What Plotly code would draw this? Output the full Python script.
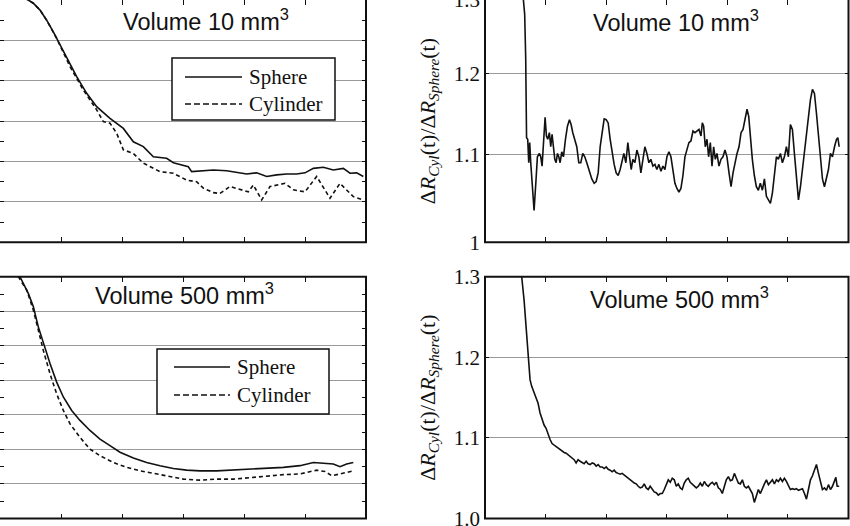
import plotly.graph_objects as go

# ---------------- data (time in arbitrary units, 0..60) ----------------
# Top-left: Volume 10 mm^3, Delta R (arbitrary units)
t10_sph = [1.5, 3.3, 4.64, 5.46, 6.56, 7.65, 8.74, 9.56, 10.93, 12.57, 14.21, 15.85, 18.03,
           20.22, 21.86, 23.50, 25.14, 26.23, 27.32, 28.42, 29.78, 30.87, 31.42, 32.79, 34.97,
           37.16, 39.34, 40.44, 42.08, 43.72, 45.36, 46.99, 48.63, 50.00, 51.37, 53.01, 54.64,
           56.28, 57.38, 58.47, 59.56]
r10_sph = [6.8, 6.1, 6.0, 5.92, 5.75, 5.50, 5.21, 4.97, 4.60, 4.10, 3.69, 3.36, 3.07,
           2.82, 2.49, 2.37, 2.12, 2.10, 2.08, 1.97, 1.91, 1.87, 1.75, 1.77, 1.79,
           1.77, 1.72, 1.69, 1.72, 1.63, 1.67, 1.69, 1.69, 1.72, 1.83, 1.86, 1.79,
           1.83, 1.71, 1.72, 1.63]
t10_cyl = [1.5, 3.3, 4.64, 5.46, 6.56, 7.65, 8.74, 9.29, 11.48, 13.66, 15.85, 16.94, 18.03,
           19.13, 20.22, 21.86, 23.50, 26.23, 28.42, 30.60, 32.24, 33.33, 34.97, 36.07, 37.70,
           39.34, 40.71, 41.53, 42.90, 44.26, 46.72, 48.09, 50.00, 51.91, 54.10, 55.74, 57.92,
           59.56]
r10_cyl = [6.8, 6.1, 6.0, 5.92, 5.75, 5.50, 5.20, 5.05, 4.35, 3.77, 3.28, 2.99, 2.95,
           2.70, 2.29, 2.20, 1.96, 1.75, 1.71, 1.54, 1.50, 1.34, 1.23, 1.21, 1.38,
           1.30, 1.25, 1.42, 1.05, 1.38, 1.46, 1.30, 1.25, 1.63, 1.09, 1.46, 1.13,
           1.05]

# Bottom-left: Volume 500 mm^3
t500_sph = [2.0, 3.28, 4.64, 5.46, 6.28, 7.10, 8.20, 9.29, 10.38, 11.75, 13.11, 14.75, 16.39,
            18.03, 19.67, 21.86, 24.04, 26.23, 28.42, 30.60, 32.79, 35.52, 38.25, 40.98,
            43.72, 46.45, 49.18, 51.37, 53.01, 54.64, 55.74, 56.83, 57.92]
r500_sph = [7.8, 7.0, 6.52, 6.14, 5.55, 5.07, 4.49, 3.95, 3.52, 3.13, 2.84, 2.55, 2.30,
            2.11, 1.92, 1.75, 1.62, 1.53, 1.45, 1.40, 1.38, 1.38, 1.40, 1.43,
            1.44, 1.48, 1.53, 1.62, 1.60, 1.58, 1.50, 1.58, 1.62]
t500_cyl = [2.0, 3.0, 4.37, 5.46, 6.28, 7.10, 8.20, 9.29, 10.38, 11.48, 13.11, 14.75, 16.39,
            18.58, 20.77, 22.95, 25.14, 27.32, 30.05, 32.79, 35.52, 38.25, 40.98, 43.72,
            46.45, 49.18, 51.91, 53.28, 54.37, 55.74, 57.92]
r500_cyl = [7.8, 7.0, 6.62, 6.04, 5.46, 4.87, 4.19, 3.61, 3.13, 2.74, 2.35, 2.01, 1.82,
            1.62, 1.48, 1.38, 1.31, 1.24, 1.14, 1.11, 1.14, 1.14, 1.19, 1.24,
            1.27, 1.29, 1.40, 1.36, 1.24, 1.29, 1.38]

# Top-right: ratio, Volume 10 mm^3 (log axis)
t_ratio10 = [5.8, 6.34, 6.55, 6.72, 6.86, 7.05, 7.22, 7.38, 7.55, 7.77, 8.10, 8.43, 8.65, 8.98,
             9.20, 9.42, 9.64, 9.92, 10.14, 10.36, 10.63, 10.85, 11.07, 11.29, 11.52, 11.74,
             11.96, 12.18, 12.40, 12.67, 12.95, 13.28, 13.61, 13.94, 14.21, 14.49, 14.77,
             15.15, 15.48, 15.81, 16.14, 16.47, 16.80, 17.25, 17.63, 18.02, 18.35, 18.68,
             19.01, 19.34, 19.67, 20.00, 20.33, 20.66, 20.99, 21.32, 21.65, 21.98, 22.31,
             22.59, 22.92, 23.25, 23.58, 23.86, 24.13, 24.41, 24.74, 25.07, 25.40, 25.73,
             26.06, 26.39, 26.72, 27.05, 27.38, 27.71, 28.04, 28.37, 28.70, 29.04, 29.37,
             29.70, 30.03, 30.36, 30.69, 31.02, 31.35, 31.68, 32.01, 32.34, 32.67, 33.00,
             33.33, 33.66, 33.99, 34.33, 34.66, 34.99, 35.32, 35.65, 35.87, 36.09, 36.36,
             36.64, 36.91, 37.19, 37.47, 37.74, 38.02, 38.29, 38.62, 38.95, 39.28, 39.61,
             39.94, 40.28, 40.61, 40.94, 41.27, 41.60, 41.93, 42.26, 42.59, 42.92, 43.25,
             43.53, 43.80, 44.13, 44.46, 44.79, 45.12, 45.45, 45.79, 46.12, 46.45, 46.78,
             47.11, 47.44, 47.77, 48.10, 48.43, 48.76, 49.09, 49.42, 49.75, 50.08, 50.41,
             50.74, 51.07, 51.40, 51.74, 52.07, 52.40, 52.73, 53.06, 53.39, 53.72, 54.05,
             54.38, 54.71, 55.04, 55.37, 55.70, 56.03, 56.36, 56.69, 57.02, 57.35, 57.69,
             58.02, 58.24, 58.46]
ratio10 = [1.45, 1.30, 1.28, 1.22, 1.12, 1.118, 1.090, 1.114, 1.090, 1.066, 1.035, 1.071, 1.097,
           1.101, 1.097, 1.086, 1.109, 1.145, 1.122, 1.118, 1.126, 1.109, 1.124, 1.109, 1.094,
           1.090, 1.101, 1.097, 1.090, 1.103, 1.097, 1.118, 1.134, 1.142, 1.136, 1.126, 1.118,
           1.109, 1.090, 1.090, 1.101, 1.097, 1.090, 1.078, 1.071, 1.066, 1.068, 1.078,
           1.109, 1.126, 1.143, 1.142, 1.138, 1.118, 1.101, 1.088, 1.078, 1.075, 1.082,
           1.090, 1.101, 1.090, 1.114, 1.097, 1.082, 1.094, 1.090, 1.105, 1.097, 1.078,
           1.094, 1.109, 1.101, 1.090, 1.094, 1.086, 1.088, 1.082, 1.088, 1.080, 1.086,
           1.082, 1.097, 1.103, 1.097, 1.078, 1.066, 1.060, 1.056, 1.060, 1.075, 1.097,
           1.107, 1.114, 1.116, 1.128, 1.126, 1.128, 1.130, 1.122, 1.138, 1.134, 1.109,
           1.118, 1.097, 1.114, 1.086, 1.109, 1.094, 1.101, 1.086, 1.094, 1.097, 1.105,
           1.097, 1.078, 1.062, 1.078, 1.090, 1.101, 1.109, 1.126, 1.130, 1.142, 1.155,
           1.146, 1.118, 1.094, 1.075, 1.062, 1.058, 1.066, 1.058, 1.071, 1.051, 1.047,
           1.043, 1.055, 1.078, 1.097, 1.094, 1.101, 1.090, 1.097, 1.109, 1.097, 1.136,
           1.130, 1.101, 1.071, 1.047, 1.062, 1.082, 1.101, 1.118, 1.146, 1.167, 1.180,
           1.175, 1.150, 1.126, 1.097, 1.071, 1.062, 1.071, 1.082, 1.101, 1.097, 1.109,
           1.118, 1.120, 1.109]

# Bottom-right: ratio, Volume 500 mm^3 (linear axis)
t_ratio500 = [5.7, 6.06, 6.45, 6.78, 7.16, 7.44, 7.71, 8.10, 8.43, 8.76, 9.09, 9.42, 9.75, 10.08,
              10.41, 10.74, 11.07, 11.40, 11.74, 12.07, 12.40, 12.73, 13.06, 13.39, 13.72,
              14.05, 14.38, 14.71, 15.04, 15.37, 15.70, 16.03, 16.36, 16.69, 17.02, 17.36,
              17.69, 18.02, 18.35, 18.68, 19.01, 19.34, 19.67, 20.00, 20.33, 20.66, 20.99,
              21.32, 21.65, 21.98, 22.31, 22.64, 22.98, 23.31, 23.64, 23.97, 24.30, 24.63,
              24.96, 25.29, 25.62, 25.95, 26.28, 26.61, 26.94, 27.27, 27.60, 27.93, 28.26,
              28.60, 28.93, 29.26, 29.59, 29.92, 30.25, 30.58, 30.91, 31.24, 31.57, 31.90,
              32.23, 32.56, 32.89, 33.22, 33.55, 33.88, 34.21, 34.55, 34.88, 35.21, 35.54,
              35.87, 36.20, 36.53, 36.86, 37.19, 37.52, 37.85, 38.18, 38.51, 38.84, 39.17,
              39.50, 39.83, 40.17, 40.50, 40.83, 41.16, 41.49, 41.82, 42.15, 42.48, 42.81,
              43.14, 43.47, 43.80, 44.13, 44.46, 44.79, 45.12, 45.45, 45.79, 46.12, 46.45,
              46.78, 47.11, 47.44, 47.77, 48.10, 48.43, 48.76, 49.09, 49.42, 49.75, 50.08,
              50.41, 50.74, 51.07, 51.40, 51.74, 52.07, 52.40, 52.73, 53.06, 53.39, 53.72,
              54.05, 54.38, 54.71, 55.04, 55.37, 55.70, 56.03, 56.36, 56.69, 57.02, 57.35,
              57.69, 57.91, 58.13, 58.46]
ratio500 = [1.34, 1.300, 1.271, 1.238, 1.197, 1.172, 1.164, 1.157, 1.151, 1.143, 1.131, 1.122,
            1.116, 1.112, 1.104, 1.098, 1.093, 1.091, 1.089, 1.087, 1.085, 1.083, 1.082, 1.081,
            1.079, 1.077, 1.075, 1.073, 1.069, 1.073, 1.071, 1.069, 1.068, 1.071, 1.068, 1.067,
            1.069, 1.068, 1.065, 1.067, 1.064, 1.064, 1.062, 1.064, 1.061, 1.060, 1.058, 1.060,
            1.057, 1.056, 1.055, 1.056, 1.054, 1.053, 1.050, 1.048, 1.046, 1.044, 1.043, 1.040,
            1.038, 1.039, 1.043, 1.038, 1.036, 1.040, 1.036, 1.033, 1.032, 1.029, 1.031, 1.031,
            1.036, 1.042, 1.048, 1.045, 1.050, 1.048, 1.040, 1.043, 1.038, 1.036, 1.044, 1.048,
            1.050, 1.045, 1.043, 1.040, 1.038, 1.040, 1.044, 1.040, 1.046, 1.042, 1.040, 1.043,
            1.045, 1.042, 1.045, 1.038, 1.036, 1.031, 1.039, 1.048, 1.052, 1.047, 1.048, 1.056,
            1.050, 1.044, 1.043, 1.048, 1.040, 1.038, 1.040, 1.036, 1.031, 1.020, 1.029, 1.036,
            1.031, 1.038, 1.043, 1.048, 1.042, 1.045, 1.048, 1.043, 1.048, 1.046, 1.050, 1.046,
            1.050, 1.046, 1.040, 1.036, 1.037, 1.036, 1.037, 1.035, 1.036, 1.037, 1.031, 1.024,
            1.036, 1.048, 1.053, 1.060, 1.067, 1.056, 1.046, 1.036, 1.038, 1.035, 1.042, 1.036,
            1.040, 1.048, 1.051, 1.040, 1.040]

series_names = ["Sphere", "Cylinder"]
panel_titles = ["Volume 10 mm<sup>3</sup>", "Volume 500 mm<sup>3</sup>"]
ratio_ticks_10 = [1.0, 1.1, 1.2, 1.3]
ratio_ticktext_10 = ["1", "1.1", "1.2", "1.3"]
ratio_ticks_500 = [1.0, 1.1, 1.2, 1.3]
ratio_ticktext_500 = ["1.0", "1.1", "1.2", "1.3"]
time_ticks = [10, 20, 30, 40, 50]

# ---------------- figure ----------------
W, H = 850, 526
SERIF = "Liberation Serif, Times New Roman, serif"
SANS = "Liberation Sans, Arial, sans-serif"
GRID = "#9a9a9a"
LINE_W = 1.6
DASH = "4px,3px"
LEG_DASH = "6px,3px"
YTITLE = "Δ<i>R</i><sub><i>Cyl</i></sub>(t)/Δ<i>R</i><sub><i>Sphere</i></sub>(t)"

fig = go.Figure()

def px_x(p):
    return p / W

def px_y(p):
    return 1 - p / H

# domains (paper)
dom_left = [0.0, px_x(366)]
dom_right = [px_x(485), px_x(848.5)]
dom_top = [px_y(242.3), 1.0]
dom_bot = [px_y(518.5), px_y(276.8)]

tick_style = dict(ticks="inside", ticklen=4, tickwidth=1.3, tickcolor="#111")

def xaxis_common(domain, anchor):
    return dict(domain=domain, anchor=anchor, range=[0, 60], tickvals=time_ticks,
                ticks="inside", ticklen=5, tickwidth=1.3, tickcolor="#111",
                showticklabels=False, showgrid=False, zeroline=False,
                showline=False, mirror="ticks", automargin=False)

def yaxis_left(domain, anchor, top):
    return dict(domain=domain, anchor=anchor, range=[0, top], dtick=1, tick0=0,
                showgrid=True, gridcolor=GRID, gridwidth=1.2, zeroline=False,
                showticklabels=False, showline=False, mirror="ticks", automargin=False,
                minor=dict(dtick=0.5, tick0=0, ticks="inside", ticklen=4, tickwidth=1.3,
                           tickcolor="#111", showgrid=False), **tick_style)

def yaxis_ratio(domain, anchor, **kw):
    return dict(domain=domain, anchor=anchor,
                showgrid=True, gridcolor=GRID, gridwidth=1.2, zeroline=False,
                showline=False, mirror="ticks", automargin=False,
                ticklabeloverflow="allow", ticklabelstandoff=4,
                tickfont=dict(family=SERIF, size=21, color="#111"),
                title=dict(text=YTITLE, font=dict(family=SERIF, size=22, color="#111"),
                           standoff=12), **tick_style, **kw)

fig.update_layout(
    xaxis=xaxis_common(dom_left, "y"),
    yaxis=yaxis_left(dom_top, "x", 6),
    xaxis2=xaxis_common(dom_right, "y2"),
    yaxis2=yaxis_ratio(dom_top, "x2", type="log", range=[0, 0.11394],
                       tickvals=ratio_ticks_10, ticktext=ratio_ticktext_10),
    xaxis3=xaxis_common(dom_left, "y3"),
    yaxis3=yaxis_left(dom_bot, "x3", 7),
    xaxis4=xaxis_common(dom_right, "y4"),
    yaxis4=yaxis_ratio(dom_bot, "x4", range=[1.0, 1.3],
                       tickvals=ratio_ticks_500, ticktext=ratio_ticktext_500),
)

line_solid = dict(color="#111", width=LINE_W)
line_dash = dict(color="#111", width=LINE_W, dash=DASH)
leg_dash = dict(color="#111", width=LINE_W, dash=LEG_DASH)

fig.add_trace(go.Scatter(x=t10_sph, y=r10_sph, mode="lines", line=line_solid,
                         name=series_names[0], xaxis="x", yaxis="y", showlegend=False))
fig.add_trace(go.Scatter(x=t10_cyl, y=r10_cyl, mode="lines", line=line_dash,
                         name=series_names[1], xaxis="x", yaxis="y", showlegend=False))
fig.add_trace(go.Scatter(x=t_ratio10, y=ratio10, mode="lines", line=line_solid,
                         xaxis="x2", yaxis="y2", showlegend=False))
fig.add_trace(go.Scatter(x=t500_sph, y=r500_sph, mode="lines", line=line_solid,
                         name=series_names[0], xaxis="x3", yaxis="y3", showlegend=False))
fig.add_trace(go.Scatter(x=t500_cyl, y=r500_cyl, mode="lines", line=line_dash,
                         name=series_names[1], xaxis="x3", yaxis="y3", showlegend=False))
fig.add_trace(go.Scatter(x=t_ratio500, y=ratio500, mode="lines", line=line_solid,
                         xaxis="x4", yaxis="y4", showlegend=False))

# panel frames (edges cut by the crop extend beyond the canvas)
frame = dict(type="rect", xref="paper", yref="paper", line=dict(color="#111", width=2),
             fillcolor="rgba(0,0,0,0)", layer="above")
fig.add_shape(**frame, x0=-0.02, x1=dom_left[1], y0=dom_top[0], y1=1.02)
fig.add_shape(**frame, x0=dom_right[0], x1=dom_right[1], y0=dom_top[0], y1=1.02)
fig.add_shape(**frame, x0=-0.02, x1=dom_left[1], y0=dom_bot[0], y1=dom_bot[1])
fig.add_shape(**frame, x0=dom_right[0], x1=dom_right[1], y0=dom_bot[0], y1=dom_bot[1])

# panel titles
title_font = dict(family=SANS, size=23.5, color="#111")
for x, y, txt in [(206, 20, panel_titles[0]), (676, 21, panel_titles[0]),
                  (184, 294, panel_titles[1]), (679, 298, panel_titles[1])]:
    fig.add_annotation(x=px_x(x), y=px_y(y), xref="paper", yref="paper", text=txt,
                       showarrow=False, xanchor="center", yanchor="middle", font=title_font)

# manual legends (box + sample lines + labels)
leg_font = dict(family=SERIF, size=21, color="#111")
legends = [
    dict(box=(172, 58, 335, 120), x0=185, x1=242, ys=(77, 104), tx=247),
    dict(box=(157, 349, 329, 414), x0=174, x1=230, ys=(367, 395), tx=235),
]
for lg in legends:
    bx0, by0, bx1, by1 = lg["box"]
    fig.add_shape(type="rect", xref="paper", yref="paper", x0=px_x(bx0), x1=px_x(bx1),
                  y0=px_y(by1), y1=px_y(by0), line=dict(color="#111", width=1.5),
                  fillcolor="white", layer="above")
    for i, (yy, ln) in enumerate(zip(lg["ys"], [line_solid, leg_dash])):
        fig.add_shape(type="line", xref="paper", yref="paper", x0=px_x(lg["x0"]),
                      x1=px_x(lg["x1"]), y0=px_y(yy), y1=px_y(yy), line=ln, layer="above")
        fig.add_annotation(x=px_x(lg["tx"]), y=px_y(yy), xref="paper", yref="paper",
                           text=series_names[i], showarrow=False, xanchor="left",
                           yanchor="middle", font=leg_font)

fig.update_layout(width=W, height=H, margin=dict(l=0, r=0, t=0, b=0, autoexpand=False),
                  paper_bgcolor="white", plot_bgcolor="white", showlegend=False)

fig.write_html("out.html", config={"displayModeBar": False},
               post_script="document.body.style.margin='0';document.body.style.overflow='hidden';")
